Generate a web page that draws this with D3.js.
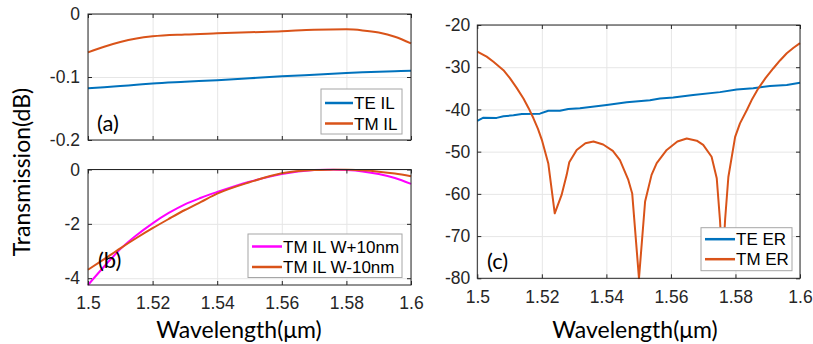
<!DOCTYPE html>
<html>
<head>
<meta charset="utf-8">
<script src="https://cdn.jsdelivr.net/npm/d3@7"></script>
<style>
  body { margin: 0; background: #fff; }
  svg { display: block; }
  .lbl { font-family: Lato, "Open Sans", sans-serif; fill: #000; }
</style>
</head>
<body>
<div id="chart"></div>
<script>
// panel (a): insertion loss
var wlA = [1.5, 1.505, 1.51, 1.515, 1.52, 1.53, 1.54, 1.55, 1.56, 1.57, 1.58, 1.585, 1.59, 1.595, 1.6];
var teIL = [-0.118, -0.1162, -0.1143, -0.1124, -0.1105, -0.1077, -0.105, -0.102, -0.099, -0.0963, -0.0937, -0.0925, -0.0915, -0.0907, -0.090];
var tmIL = [-0.061, -0.052, -0.0445, -0.039, -0.0355, -0.0325, -0.0307, -0.029, -0.0275, -0.025, -0.0244, -0.026, -0.0295, -0.036, -0.0466];

// panel (b): width variation
var wlB = [1.5, 1.505, 1.51, 1.515, 1.52, 1.525, 1.53, 1.535, 1.54, 1.55, 1.56, 1.57, 1.575, 1.58, 1.585, 1.59, 1.595, 1.6];
var tmPlus = [-4.25, -3.57, -2.93, -2.42, -1.98, -1.6, -1.28, -1.04, -0.83, -0.45, -0.165, -0.02, 0, -0.02, -0.07, -0.165, -0.31, -0.53];
var tmMinus = [-3.69, -3.3, -2.9, -2.52, -2.16, -1.82, -1.49, -1.19, -0.89, -0.47, -0.14, -0.02, -0.005, 0, -0.03, -0.08, -0.15, -0.25];

// panel (c): extinction ratio
var wlTE = [1.5, 1.5019, 1.506, 1.5081, 1.5112, 1.5138, 1.5194, 1.522, 1.5256, 1.5282, 1.5318, 1.5401, 1.5463, 1.5535, 1.5566, 1.5607, 1.5669, 1.5752, 1.5804, 1.5855, 1.5907, 1.5959, 1.6];
var teER = [-42.7, -41.95, -42.0, -41.6, -41.4, -41.1, -41.0, -40.3, -40.3, -39.9, -39.7, -38.95, -38.3, -37.8, -37.4, -37.2, -36.6, -35.9, -35.3, -35.0, -34.45, -34.2, -33.7];
var wlTM = [1.5, 1.5029, 1.505, 1.5081, 1.5101, 1.5122, 1.5143, 1.5159, 1.5174, 1.5188, 1.52, 1.522, 1.5228, 1.524, 1.5261, 1.5277, 1.5285, 1.5308, 1.5335, 1.536, 1.539, 1.542, 1.5442, 1.5468, 1.548, 1.5501, 1.552, 1.554, 1.5556, 1.5587, 1.562, 1.5649, 1.568, 1.57, 1.5726, 1.5742, 1.5752, 1.576, 1.5768, 1.5778, 1.5799, 1.5814, 1.5835, 1.5852, 1.5871, 1.5893, 1.5917, 1.5938, 1.5959, 1.598, 1.6];
var tmER = [-26.3, -27.5, -28.7, -30.7, -32.6, -34.9, -37.4, -39.7, -42.1, -44.6, -47.2, -52.8, -57.5, -64.6, -60.3, -55.5, -52.5, -49.6, -48.0, -47.6, -48.3, -49.8, -52.0, -56.7, -59.9, -80, -61.8, -55.5, -52.7, -49.6, -47.6, -46.9, -47.4, -48.4, -51.2, -56.3, -66.2, -77, -66, -56, -46.5, -43.3, -40.2, -37.5, -35, -32.6, -30.3, -28.4, -26.7, -25.4, -24.3];

var xTicks = [1.5, 1.52, 1.54, 1.56, 1.58, 1.6];

var blue = "#0072BD", orange = "#D95319", magenta = "#FF00FF";
var tickFont = "'Liberation Sans', Arial, sans-serif";

var svg = d3.select("#chart").append("svg")
  .attr("width", 813)
  .attr("height", 344);

function styleTicks(sel) {
  sel.select(".domain").remove();
  sel.selectAll("line").attr("stroke", "#262626");
  sel.selectAll("text")
    .attr("font-family", tickFont)
    .attr("font-size", 17.5)
    .attr("fill", "#262626");
}

function drawPanel(p) {
  var w = p.x1 - p.x0, h = p.y1 - p.y0;
  var g = svg.append("g").attr("transform", `translate(${p.x0}, ${p.y0})`);
  var x = d3.scaleLinear().domain([1.5, 1.6]).range([0, w]);
  var y = d3.scaleLinear().domain(p.yDomain).range([h, 0]);
  var fmt = d => String(d);

  // grid
  g.append("g").attr("transform", `translate(0, ${h})`)
    .call(d3.axisBottom(x).tickValues(xTicks).tickSize(-h).tickFormat(""))
    .call(s => s.select(".domain").remove())
    .selectAll("line").attr("stroke", "#e6e6e6");
  g.append("g")
    .call(d3.axisLeft(y).tickValues(p.yTicks).tickSize(-w).tickFormat(""))
    .call(s => s.select(".domain").remove())
    .selectAll("line").attr("stroke", "#e6e6e6");

  var clipId = "clip" + p.name;
  g.append("clipPath").attr("id", clipId).append("rect")
    .attr("x", -1).attr("y", -1).attr("width", w + 2).attr("height", h + 2);

  var line = d3.line()
    .x(d => x(d[0]))
    .y(d => y(d[1]))
    .curve(p.curve || d3.curveLinear);

  p.series.forEach(function(s) {
    g.append("path")
      .datum(s.wl.map((v, i) => [v, s.vals[i]]))
      .attr("clip-path", `url(#${clipId})`)
      .attr("fill", "none")
      .attr("stroke", s.color)
      .attr("stroke-width", 2)
      .attr("stroke-linejoin", "round")
      .attr("d", line);
  });

  // axes with inward ticks on all four sides
  g.append("g").attr("transform", `translate(0, ${h})`)
    .call(d3.axisBottom(x).tickValues(xTicks).tickSize(-4).tickPadding(12)
      .tickFormat(p.xLabels ? fmt : ""))
    .call(styleTicks);
  g.append("g")
    .call(d3.axisTop(x).tickValues(xTicks).tickSize(-4).tickFormat(""))
    .call(styleTicks);
  g.append("g")
    .call(d3.axisLeft(y).tickValues(p.yTicks).tickSize(-4).tickPadding(p.yPad).tickFormat(fmt))
    .call(styleTicks);
  g.append("g").attr("transform", `translate(${w}, 0)`)
    .call(d3.axisRight(y).tickValues(p.yTicks).tickSize(-4).tickFormat(""))
    .call(styleTicks);

  g.append("rect")
    .attr("width", w).attr("height", h)
    .attr("fill", "none")
    .attr("stroke", "#262626")
    .attr("stroke-width", 1);

  // panel tag
  g.append("text").attr("class", "lbl")
    .attr("x", p.tag[0] - p.x0).attr("y", p.tag[1] - p.y0)
    .attr("dy", "0.35em")
    .attr("font-size", 22)
    .text(p.tagText);

  // legend
  var lg = svg.append("g");
  lg.append("rect")
    .attr("x", p.leg.x).attr("y", p.leg.y)
    .attr("width", p.leg.w).attr("height", p.leg.h)
    .attr("fill", "#fff")
    .attr("stroke", "#a6a6a6");
  p.series.forEach(function(s, i) {
    var yy = p.leg.y + p.leg.first + i * p.leg.step;
    lg.append("line")
      .attr("x1", p.leg.x + 4).attr("x2", p.leg.x + 4 + p.leg.lineLen)
      .attr("y1", yy).attr("y2", yy)
      .attr("stroke", s.color).attr("stroke-width", 2.5);
    lg.append("text")
      .attr("x", p.leg.x + 5 + p.leg.lineLen).attr("y", yy)
      .attr("dy", "0.36em")
      .attr("font-family", tickFont)
      .attr("font-size", 17)
      .attr("fill", "#000")
      .text(s.name);
  });
}

drawPanel({
  name: "a", x0: 88, x1: 411, y0: 14, y1: 140,
  yDomain: [-0.2, 0], yTicks: [-0.2, -0.1, 0], yPad: 8,
  xLabels: false, curve: d3.curveMonotoneX,
  series: [
    { name: "TE IL", wl: wlA, vals: teIL, color: blue },
    { name: "TM IL", wl: wlA, vals: tmIL, color: orange }
  ],
  tag: [97, 123], tagText: "(a)",
  leg: { x: 321, y: 89, w: 81, h: 45, first: 14, step: 20.5, lineLen: 28 }
});

drawPanel({
  name: "b", x0: 88, x1: 411, y0: 169.5, y1: 285,
  yDomain: [-4.25, 0], yTicks: [-4, -2, 0], yPad: 8,
  xLabels: true, curve: d3.curveMonotoneX,
  series: [
    { name: "TM IL W+10nm", wl: wlB, vals: tmPlus, color: magenta },
    { name: "TM IL W-10nm", wl: wlB, vals: tmMinus, color: orange }
  ],
  tag: [98, 260], tagText: "(b)",
  leg: { x: 248, y: 234, w: 154, h: 43.5, first: 12.5, step: 20.5, lineLen: 30 }
});

drawPanel({
  name: "c", x0: 477.3, x1: 800, y0: 25, y1: 278.3,
  yDomain: [-80, -20], yTicks: [-80, -70, -60, -50, -40, -30, -20], yPad: 7,
  xLabels: true,
  series: [
    { name: "TE ER", wl: wlTE, vals: teER, color: blue },
    { name: "TM ER", wl: wlTM, vals: tmER, color: orange }
  ],
  tag: [487, 261], tagText: "(c)",
  leg: { x: 701, y: 227.7, w: 91, h: 43, first: 11.5, step: 20, lineLen: 30 }
});

// axis titles
svg.append("text").attr("class", "lbl")
  .attr("transform", "translate(30, 172) rotate(-90)")
  .attr("text-anchor", "middle")
  .attr("font-size", 23)
  .text("Transmission(dB)");

svg.append("text").attr("class", "lbl")
  .attr("x", 239).attr("y", 338)
  .attr("text-anchor", "middle")
  .attr("font-size", 23)
  .text("Wavelength(μm)");

svg.append("text").attr("class", "lbl")
  .attr("x", 635).attr("y", 338)
  .attr("text-anchor", "middle")
  .attr("font-size", 23)
  .text("Wavelength(μm)");
</script>
</body>
</html>
